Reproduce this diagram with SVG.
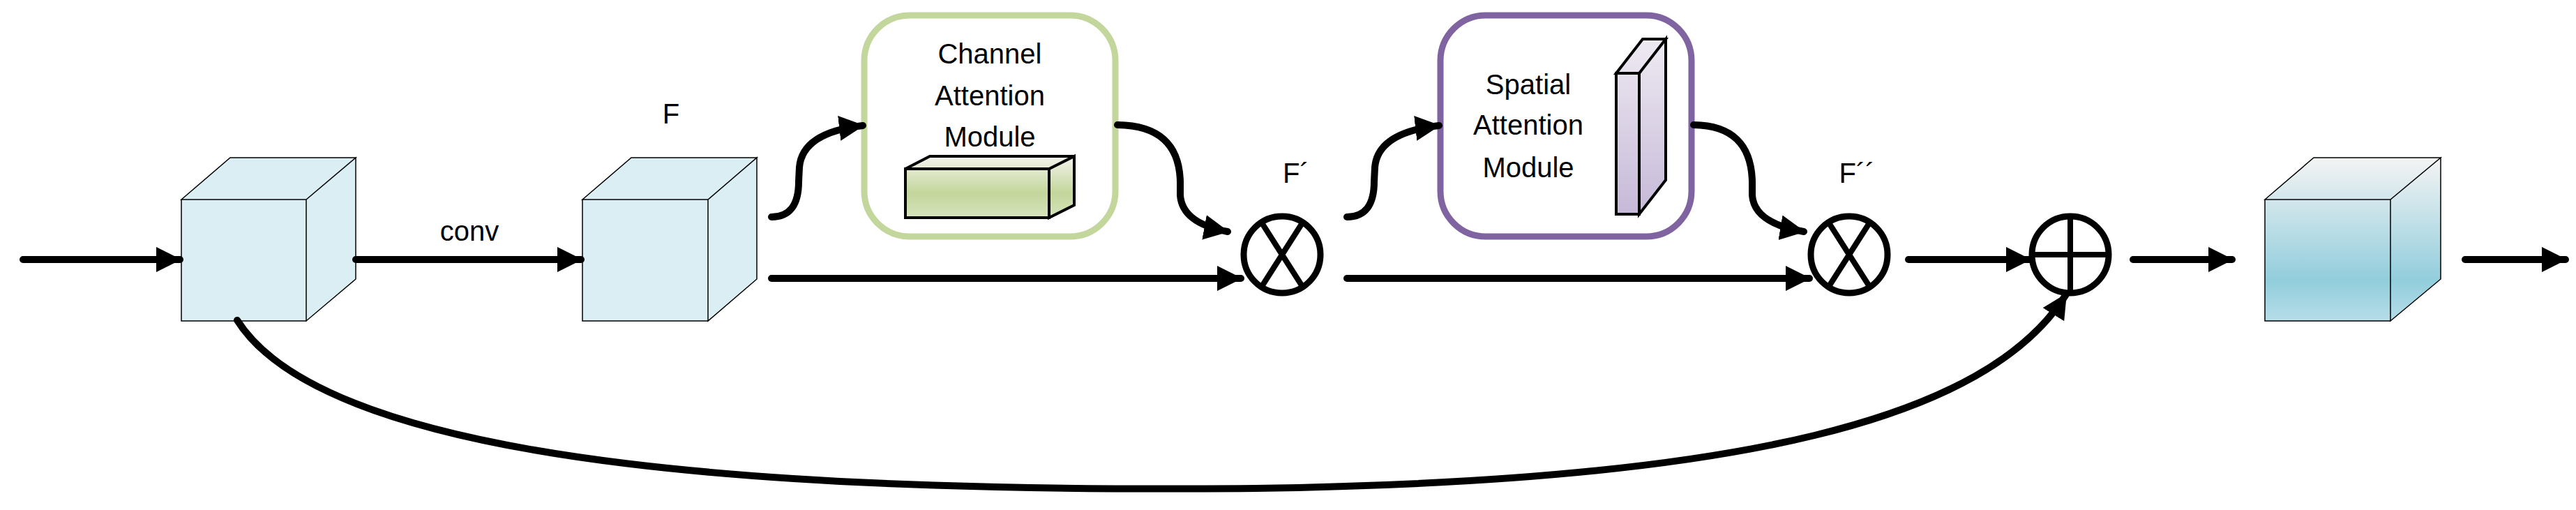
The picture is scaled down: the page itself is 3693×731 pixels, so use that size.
<svg xmlns="http://www.w3.org/2000/svg" width="3693" height="731" viewBox="0 0 3693 731">
<style>
.c{fill:none;stroke:#000;stroke-width:10;stroke-linecap:round}
.t{font-family:"Liberation Sans",Arial,sans-serif;font-size:40px;fill:#000;text-anchor:middle}
.e{stroke:#000;stroke-width:1.5}
.op{fill:#fff;stroke:#000;stroke-width:9}
</style>
<defs>
<marker id="a" markerUnits="userSpaceOnUse" markerWidth="40" markerHeight="40" refX="34" refY="18" orient="auto"><path d="M0,0 L36,18 L0,36 Z" fill="#000"/></marker>
<linearGradient id="gG" x1="0" y1="0" x2="0" y2="1"><stop offset="0" stop-color="#f4f3ec"/><stop offset="0.6" stop-color="#c3d69b"/><stop offset="1" stop-color="#d7e4bd"/></linearGradient>
<linearGradient id="gP" x1="0" y1="0" x2="0" y2="1"><stop offset="0" stop-color="#eeeaf2"/><stop offset="1" stop-color="#c6b9d8"/></linearGradient>
<linearGradient id="gB" x1="0" y1="0" x2="0" y2="1"><stop offset="0" stop-color="#f4f4f4"/><stop offset="0.75" stop-color="#92cddc"/><stop offset="1" stop-color="#b6dde8"/></linearGradient>
</defs>
<g id="cube1"><path class="e" d="M260,286 L330,226 L510,226 L439,286 Z M439,286 L510,226 L510,400 L439,460 Z M260,286 H439 V460 H260 Z" fill="#daeef3"/></g>
<g id="cube2"><path class="e" d="M835,286 L905,226 L1085,226 L1015,286 Z M1015,286 L1085,226 L1085,400 L1015,460 Z M835,286 H1015 V460 H835 Z" fill="#daeef3"/></g>
<g id="channel"><rect x="1239" y="22" width="360" height="317" rx="65" fill="#fff" stroke="#c3d69b" stroke-width="9"/>
<text class="t" x="1419" y="91">Channel</text><text class="t" x="1419" y="151">Attention</text><text class="t" x="1419" y="210">Module</text>
<path d="M1298,242 L1333,224 L1540,224 L1504,242 Z M1504,242 L1540,224 L1540,294 L1504,312 Z M1298,242 H1504 V312 H1298 Z" fill="url(#gG)" stroke="#000" stroke-width="4"/></g>
<g id="spatial"><rect x="2065" y="22" width="360" height="317" rx="65" fill="#fff" stroke="#8064a2" stroke-width="9"/>
<text class="t" x="2191" y="135">Spatial</text><text class="t" x="2191" y="193">Attention</text><text class="t" x="2191" y="254">Module</text>
<path d="M2317,105 L2355,56 L2388,56 L2350,105 Z M2350,105 L2388,56 L2388,258 L2350,307 Z M2317,105 H2350 V307 H2317 Z" fill="url(#gP)" stroke="#000" stroke-width="4"/></g>
<g id="mul1"><circle class="op" cx="1838" cy="365" r="55"/><path d="M1808,318 L1868,412 M1868,318 L1808,412" stroke="#000" stroke-width="8"/></g>
<g id="mul2"><circle class="op" cx="2651" cy="365" r="55"/><path d="M2621,318 L2681,412 M2681,318 L2621,412" stroke="#000" stroke-width="8"/></g>
<g id="add"><circle class="op" cx="2968" cy="365" r="55"/><path d="M2913,365 H3023 M2968,310 V420" stroke="#000" stroke-width="8"/></g>
<g id="cube3"><path class="e" d="M3247,286 L3317,226 L3499,226 L3427,286 Z M3427,286 L3499,226 L3499,400 L3427,460 Z M3247,286 H3427 V460 H3247 Z" fill="url(#gB)"/></g>
<g id="labels"><text class="t" x="673" y="345">conv</text><text class="t" x="962" y="177">F</text><text class="t" x="1858" y="262">F´</text><text class="t" x="2662" y="262">F´´</text></g>
<g id="connectors">
<path class="c" marker-end="url(#a)" d="M33,372 H258"/>
<path class="c" marker-end="url(#a)" d="M510,372 H833"/>
<path class="c" marker-end="url(#a)" d="M1106,311 Q1145,311 1145,260 L1146,240 Q1150,190 1237,180"/>
<path class="c" marker-end="url(#a)" d="M1602,179 Q1690,180 1692,260 L1692,280 Q1695,320 1760,332"/>
<path class="c" marker-end="url(#a)" d="M1106,399 H1779"/>
<path class="c" marker-end="url(#a)" d="M1931,311 Q1970,311 1970,260 L1971,240 Q1975,190 2063,180"/>
<path class="c" marker-end="url(#a)" d="M2428,179 Q2510,180 2512,260 L2512,280 Q2515,320 2586,332"/>
<path class="c" marker-end="url(#a)" d="M1931,399 H2594"/>
<path class="c" marker-end="url(#a)" d="M2736,372 H2910"/>
<path class="c" marker-end="url(#a)" d="M3058,372 H3200"/>
<path class="c" marker-end="url(#a)" d="M3534,372 H3678"/>
<path class="c" marker-end="url(#a)" d="M340,459 C480,680 1200,705 1800,700 C2500,690 2850,600 2962,422"/>
</g>
</svg>
